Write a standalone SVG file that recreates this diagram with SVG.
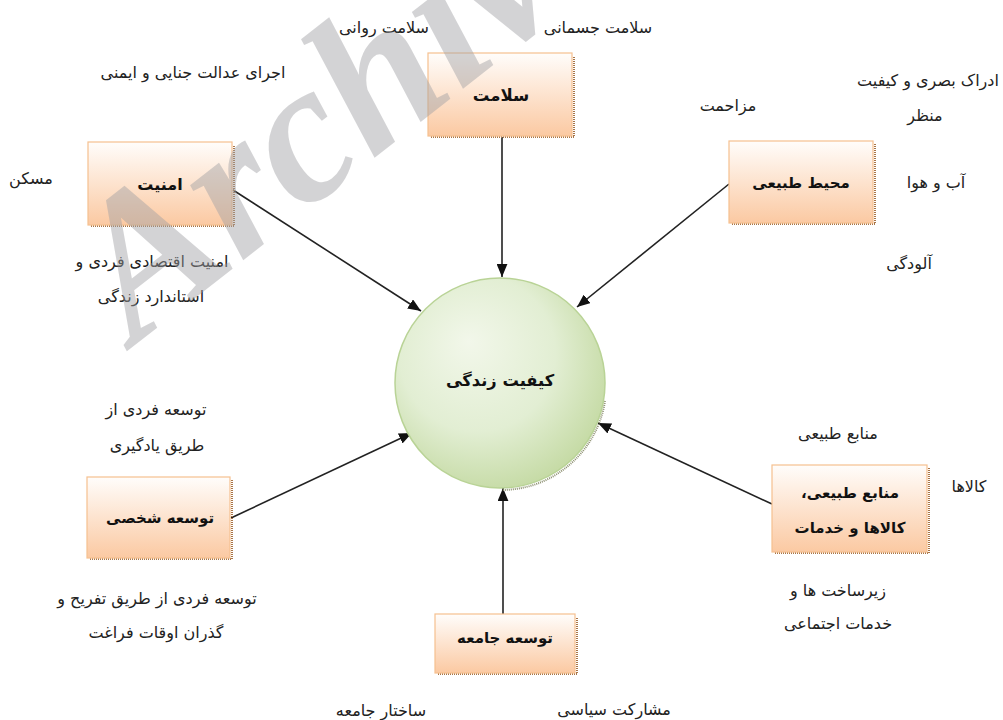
<svg xmlns="http://www.w3.org/2000/svg" width="1003" height="720" viewBox="0 0 1003 720">
<style>
text{font-family:"DejaVu Sans","Noto Sans",sans-serif;direction:rtl;text-anchor:middle;dominant-baseline:central;fill:#222}
.lbl{font-size:16px}
.box text{font-size:15px;font-weight:bold;fill:#111}
.box rect{fill:url(#peach);stroke:#f6c08f;stroke-width:1.2}
.box path{fill:none;stroke:#a87548;stroke-width:2;stroke-dasharray:1 1}
.conn line{stroke:#222;stroke-width:1.6}
.wm{font-family:"Liberation Serif",serif;font-style:italic;font-weight:bold;font-size:200px;fill:#a0a0a4;opacity:0.45;direction:ltr;text-anchor:start;dominant-baseline:alphabetic}
</style>
<defs>
<linearGradient id="peach" x1="0" y1="0" x2="0" y2="1">
<stop offset="0" stop-color="#fffdfb"/>
<stop offset="1" stop-color="#fbc9a2"/>
</linearGradient>
<radialGradient id="green" cx="0.42" cy="0.4" r="0.62" fx="0.35" fy="0.3">
<stop offset="0" stop-color="#f2f7ea"/>
<stop offset="0.6" stop-color="#e2eed3"/>
<stop offset="1" stop-color="#c6dba6"/>
</radialGradient>
<marker id="ah" viewBox="0 0 12 10" refX="12" refY="5" markerWidth="13" markerHeight="11" markerUnits="userSpaceOnUse" orient="auto">
<path d="M0,0 L12,5 L0,10 z" fill="#111"/>
</marker>
</defs>
<rect width="1003" height="720" fill="#fff"/>

<g id="connectors" class="conn">
<line x1="502" y1="137" x2="502" y2="277" marker-end="url(#ah)"/>
<line x1="233" y1="190" x2="421" y2="311" marker-end="url(#ah)"/>
<line x1="729" y1="184" x2="577" y2="307" marker-end="url(#ah)"/>
<line x1="231" y1="518" x2="412" y2="433" marker-end="url(#ah)"/>
<line x1="772" y1="504" x2="598" y2="423" marker-end="url(#ah)"/>
<line x1="503" y1="614" x2="503" y2="488" marker-end="url(#ah)"/>
</g>

<g id="center">
<path d="M603,400 A105,105 0 0 1 500,489" fill="none" stroke="#8c8f70" stroke-width="2" stroke-dasharray="1 1" transform="translate(2,1)"/>
<circle cx="500" cy="383" r="105" fill="url(#green)" stroke="#b9d396" stroke-width="1.5"/>
<text x="500" y="380" style="font-size:16.3px;font-weight:bold;fill:#111">کیفیت زندگی</text>
</g>

<g id="n-salamat" class="box">
<path d="M431,137 H574 V56"/>
<rect x="428" y="53" width="144" height="83"/>
<text x="501" y="95" style="font-size:16.5px">سلامت</text>
</g>
<g id="n-amniat" class="box">
<path d="M91,226 H234 V145"/>
<rect x="88" y="142" width="144" height="83"/>
<text x="160" y="184" style="font-size:16px">امنیت</text>
</g>
<g id="n-mohit" class="box">
<path d="M732,224 H875 V144"/>
<rect x="729" y="141" width="144" height="82"/>
<text x="801" y="183">محیط طبیعی</text>
</g>
<g id="n-shakhsi" class="box">
<path d="M90,559 H232 V480"/>
<rect x="87" y="477" width="143" height="81"/>
<text x="160" y="518">توسعه شخصی</text>
</g>
<g id="n-manabe" class="box">
<path d="M775,553 H929 V468"/>
<rect x="772" y="465" width="155" height="87"/>
<text x="850" y="493">منابع طبیعی،</text>
<text x="850" y="528">کالاها و خدمات</text>
</g>
<g id="n-jameh" class="box">
<path d="M438,674 H577 V617"/>
<rect x="435" y="614" width="140" height="59"/>
<text x="505" y="638">توسعه جامعه</text>
</g>

<g id="labels" class="lbl">
<text x="384" y="27">سلامت روانی</text>
<text x="598" y="27">سلامت جسمانی</text>
<text x="193" y="72">اجرای عدالت جنایی و ایمنی</text>
<text x="728" y="105">مزاحمت</text>
<text x="928" y="80">ادراک بصری و کیفیت</text>
<text x="925" y="115">منظر</text>
<text x="31" y="178">مسکن</text>
<text x="936" y="182">آب و هوا</text>
<text x="909" y="263">آلودگی</text>
<text x="152" y="261">امنیت اقتصادی فردی و</text>
<text x="151" y="296">استاندارد زندگی</text>
<text x="156" y="409">توسعه فردی از</text>
<text x="157" y="445">طریق یادگیری</text>
<text x="838" y="433">منابع طبیعی</text>
<text x="969" y="486">کالاها</text>
<text x="838" y="590">زیرساخت ها و</text>
<text x="838" y="623">خدمات اجتماعی</text>
<text x="157" y="598">توسعه فردی از طریق تفریح و</text>
<text x="156" y="632">گذران اوقات فراغت</text>
<text x="381" y="710">ساختار جامعه</text>
<text x="614" y="709">مشارکت سیاسی</text>
</g>

<text class="wm" x="135" y="345" transform="rotate(-38 135 345)">Archive</text>
</svg>
